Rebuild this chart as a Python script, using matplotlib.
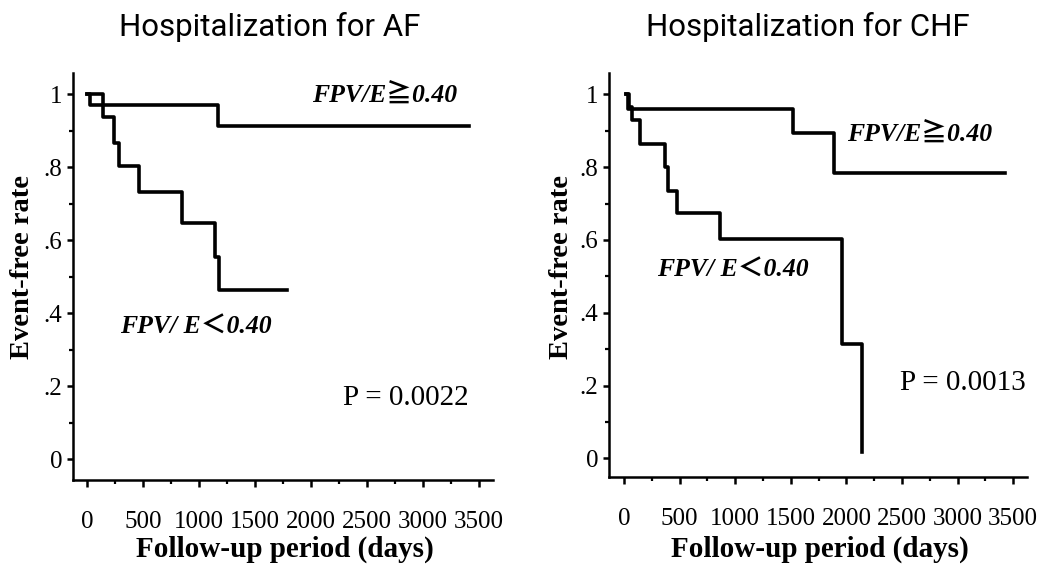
"""
Kaplan-Meier kurver: sykehusinnleggelse for AF og CHF, FPV/E over/under 0.40.
"""

import numpy as np
import matplotlib.pyplot as plt
from matplotlib.ticker import MultipleLocator

W, H = 1045, 568

# Data lest av figuren (dager, overlevelse)
af_hi_t = [0, 24, 1171, 3414]
af_hi_s = [1.0, 0.970, 0.914, 0.914]
af_lo_t = [0, 143, 240, 286, 465, 843, 1141, 1180, 1782]
af_lo_s = [1.0, 0.937, 0.866, 0.804, 0.731, 0.648, 0.555, 0.463, 0.463]

chf_hi_t = [20, 40, 1523, 1891, 3426]
chf_hi_s = [1.0, 0.960, 0.893, 0.785, 0.785]
chf_lo_t = [20, 45, 75, 140, 369, 398, 479, 863, 1963, 2143]
chf_lo_s = [1.0, 0.965, 0.930, 0.864, 0.800, 0.734, 0.673, 0.603, 0.314, 0.018]

titler = ['Hospitalization for AF', 'Hospitalization for CHF']
p_verdier = ['P = 0.0022', 'P = 0.0013']
xticks = [0, 500, 1000, 1500, 2000, 2500, 3000, 3500]
yticks = [0, 0.2, 0.4, 0.6, 0.8, 1.0]
yticklabels = ['0', '.2', '.4', '.6', '.8', '1']

serif = ['Liberation Serif', 'DejaVu Serif']
symfont = ['Liberation Serif', 'Noto Sans CJK JP', 'DejaVu Sans']

fig = plt.figure(figsize=(W/100, H/100), dpi=100)


def px_axes(l, t, r, b):
    return fig.add_axes([l/W, 1 - b/H, (r - l)/W, (b - t)/H])


ax1 = px_axes(73, 73, 493, 480)
ax2 = px_axes(609, 73, 1027, 477)

ax1.set_xlim(-128, 3626); ax1.set_ylim(-0.057, 1.058)
ax2.set_xlim(-135, 3624); ax2.set_ylim(-0.051, 1.0585)

for ax in [ax1, ax2]:
    for s in ['top', 'right']:
        ax.spines[s].set_visible(False)
    for s in ['left', 'bottom']:
        ax.spines[s].set_linewidth(1.8)
    ax.set_xticks(xticks)
    ax.set_xticklabels([str(v) for v in xticks], family=serif, fontsize=18)
    ax.set_yticks(yticks)
    ax.set_yticklabels(yticklabels, family=serif, fontsize=18)
    ax.xaxis.set_minor_locator(MultipleLocator(250))
    ax.yaxis.set_minor_locator(MultipleLocator(0.1))
    ax.tick_params(axis='x', which='major', length=5, width=1.8, pad=17)
    ax.tick_params(axis='y', which='major', length=4.5, width=1.8, pad=3)
    ax.tick_params(which='minor', length=3, width=1.6)

ax1.step(af_hi_t, af_hi_s, where='post', color='black', lw=2.6)
ax1.step(af_lo_t, af_lo_s, where='post', color='black', lw=2.6)
ax2.step(chf_hi_t, chf_hi_s, where='post', color='black', lw=2.6)
ax2.step(chf_lo_t, chf_lo_s, where='post', color='black', lw=2.6)

# Tekster i plottet
ax1.text(2005, 0.998, 'FPV/E≧0.40', family=symfont, fontsize=18.5,
         fontweight='bold', style='italic', ha='left', va='center')
ax1.text(292, 0.362, 'FPV/ E＜0.40', family=symfont, fontsize=18.5,
         fontweight='bold', style='italic', ha='left', va='center')
ax1.text(2285, 0.168, p_verdier[0], family=serif, fontsize=21, ha='left', va='center')

ax2.text(2003, 0.891, 'FPV/E≧0.40', family=symfont, fontsize=18.5,
         fontweight='bold', style='italic', ha='left', va='center')
ax2.text(294, 0.517, 'FPV/ E＜0.40', family=symfont, fontsize=18.5,
         fontweight='bold', style='italic', ha='left', va='center')
ax2.text(2482, 0.207, p_verdier[1], family=serif, fontsize=21, ha='left', va='center')

# Titler og aksetekster
fig.text(270/W, 1 - 27/H, titler[0], family='Roboto', fontsize=22.5, ha='center', va='center')
fig.text(808/W, 1 - 27/H, titler[1], family='Roboto', fontsize=22.5, ha='center', va='center')
for xc in [23, 562]:
    fig.text(xc/W, 1 - 267/H, 'Event-free rate', family=serif, fontsize=20.5,
             fontweight='bold', rotation=90, ha='center', va='center')
for xc in [285, 820]:
    fig.text(xc/W, 1 - 549/H, 'Follow-up period (days)', family=serif, fontsize=21,
             fontweight='bold', ha='center', va='center')

fig.savefig('out.png', dpi=100)
